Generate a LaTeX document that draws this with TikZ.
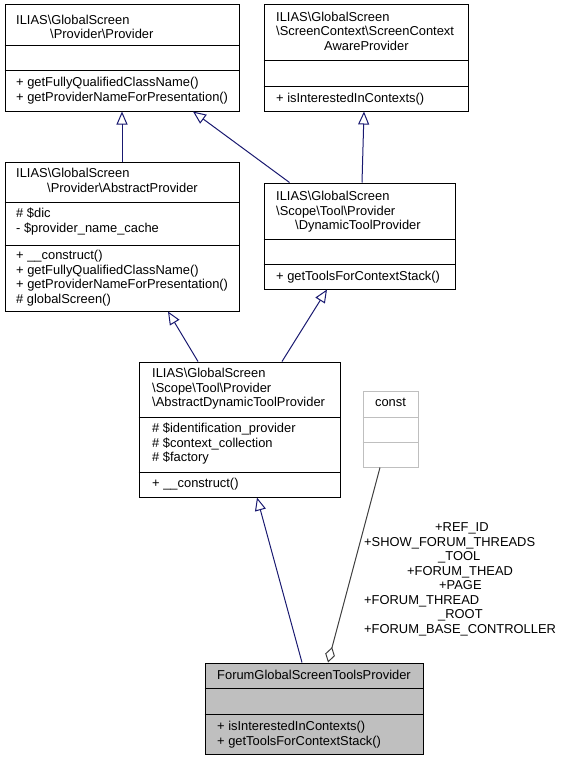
\documentclass[tikz,border=0pt]{standalone}
\usepackage{fontspec}
\setmainfont{Liberation Sans}
\usetikzlibrary{arrows.meta}
\newcommand{\bsl}{\textbackslash{}}
\definecolor{edgeblue}{HTML}{191970}
\definecolor{usegray}{HTML}{404040}
\definecolor{constgray}{HTML}{BFBFBF}
\definecolor{focusfill}{HTML}{BFBFBF}
\tikzset{
  classbox/.style={draw=black, line width=1pt, fill=white, inner sep=0pt},
  member/.style={anchor=base west, inner sep=0pt},
  inherit/.style={draw=edgeblue, line width=1pt, -{Triangle[open,length=13pt,width=11pt]}},
  usage/.style={draw=usegray, line width=1pt, -{Diamond[open,length=16pt,width=10pt]}},
}
\begin{document}
\begin{tikzpicture}[x=1pt, y=-1pt, font=\fontsize{12.9}{14.5}\selectfont]
    \useasboundingbox (0,0) rectangle (567,760);
    % class boxes
    \node[classbox, minimum width=234, minimum height=106] at (122,58) (A) {};
    \node[classbox, minimum width=204, minimum height=106] at (366,58) (B) {};
    \node[classbox, minimum width=234, minimum height=149] at (122,236.5) (C) {};
    \node[classbox, minimum width=191, minimum height=106] at (359.5,236) (D) {};
    \node[classbox, minimum width=201, minimum height=135] at (239.5,429.5) (E) {};
    \node[classbox, draw=constgray, minimum width=55, minimum height=76] at (390.5,429) (F) {};
    \node[classbox, fill=focusfill, minimum width=218, minimum height=91] at (314,708.5) (G) {};
    % separators
    \draw[line width=1pt] (A.west |- 0,46) -- (A.east |- 0,46);
    \draw[line width=1pt] (A.west |- 0,71) -- (A.east |- 0,71);
    \draw[line width=1pt] (B.west |- 0,61) -- (B.east |- 0,61);
    \draw[line width=1pt] (B.west |- 0,86) -- (B.east |- 0,86);
    \draw[line width=1pt] (C.west |- 0,202) -- (C.east |- 0,202);
    \draw[line width=1pt] (C.west |- 0,245) -- (C.east |- 0,245);
    \draw[line width=1pt] (D.west |- 0,239) -- (D.east |- 0,239);
    \draw[line width=1pt] (D.west |- 0,264) -- (D.east |- 0,264);
    \draw[line width=1pt] (E.west |- 0,417) -- (E.east |- 0,417);
    \draw[line width=1pt] (E.west |- 0,472) -- (E.east |- 0,472);
    \draw[line width=1pt, constgray] (F.west |- 0,417) -- (F.east |- 0,417);
    \draw[line width=1pt, constgray] (F.west |- 0,442) -- (F.east |- 0,442);
    \draw[line width=1pt] (G.west |- 0,688) -- (G.east |- 0,688);
    \draw[line width=1pt] (G.west |- 0,714) -- (G.east |- 0,714);
    % Provider
    \node[member] at (16,24.5) (A1) {ILIAS\bsl GlobalScreen};
    \node[member] at (50,39) (A2) {\bsl Provider\bsl Provider};
    \node[member] at (16,86.5) (A3) {+ getFullyQualifiedClassName()};
    \node[member] at (16,101) (A4) {+ getProviderNameForPresentation()};
    % ScreenContextAwareProvider
    \node[member] at (276,21.5) (B1) {ILIAS\bsl GlobalScreen};
    \node[member] at (276,36) (B2) {\bsl ScreenContext\bsl ScreenContext};
    \node[member] at (324,50.5) (B3) {AwareProvider};
    \node[member] at (276,102.5) (B4) {+ isInterestedInContexts()};
    % AbstractProvider
    \node[member] at (16,177.5) (C1) {ILIAS\bsl GlobalScreen};
    \node[member] at (47,192) (C2) {\bsl Provider\bsl AbstractProvider};
    \node[member] at (16,217.5) (C3) {\# \$dic};
    \node[member] at (16,232) (C4) {- \$provider\_name\_cache};
    \node[member] at (16,259.5) (C5) {+ \_\_construct()};
    \node[member] at (16,274) (C6) {+ getFullyQualifiedClassName()};
    \node[member] at (16,288.5) (C7) {+ getProviderNameForPresentation()};
    \node[member] at (16,303) (C8) {\# globalScreen()};
    % DynamicToolProvider
    \node[member] at (276,200.5) (D1) {ILIAS\bsl GlobalScreen};
    \node[member] at (276,215) (D2) {\bsl Scope\bsl Tool\bsl Provider};
    \node[member] at (295,229.5) (D3) {\bsl DynamicToolProvider};
    \node[member] at (276,280.5) (D4) {+ getToolsForContextStack()};
    % AbstractDynamicToolProvider
    \node[member] at (152,377.5) (E1) {ILIAS\bsl GlobalScreen};
    \node[member] at (152,392) (E2) {\bsl Scope\bsl Tool\bsl Provider};
    \node[member] at (152,406.5) (E3) {\bsl AbstractDynamicToolProvider};
    \node[member] at (152,432.5) (E4) {\# \$identification\_provider};
    \node[member] at (152,447) (E5) {\# \$context\_collection};
    \node[member] at (152,461.5) (E6) {\# \$factory};
    \node[member] at (152,487.5) (E7) {+ \_\_construct()};
    % const
    \node[anchor=base, inner sep=0pt] at (390.5,406.5) (F1) {const};
    % ForumGlobalScreenToolsProvider
    \node[member] at (217,679.5) (G1) {ForumGlobalScreenToolsProvider};
    \node[member] at (217,730.5) (G2) {+ isInterestedInContexts()};
    \node[member] at (217,745) (G3) {+ getToolsForContextStack()};
    % connectors
    \draw[inherit] (C.north) -- (A.south);
    \draw[inherit] ([xshift=-70pt]D.north) -- ([xshift=71pt]A.south);
    \draw[inherit] ([xshift=2.5pt]D.north) -- ([xshift=-2pt]B.south);
    \draw[inherit] ([xshift=-41.5pt]E.north) -- ([xshift=46pt]C.south);
    \draw[inherit] ([xshift=42.5pt]E.north) -- ([xshift=-32.5pt]D.south);
    \draw[inherit] ([xshift=-12pt]G.north) -- ([xshift=17.5pt]E.south);
    \draw[usage] ([xshift=-10.5pt]F.south) -- ([xshift=14pt]G.north);
    % label of the usage edge
    \node[member] at (435,531.5) (L1) {+REF\_ID};
    \node[member] at (364,546) (L2) {+SHOW\_FORUM\_THREADS};
    \node[member] at (438,560.5) (L3) {\_TOOL};
    \node[member] at (407,575) (L4) {+FORUM\_THEAD};
    \node[member] at (439,589.5) (L5) {+PAGE};
    \node[member] at (364,604) (L6) {+FORUM\_THREAD};
    \node[member] at (438,618.5) (L7) {\_ROOT};
    \node[member] at (364,633) (L8) {+FORUM\_BASE\_CONTROLLER};
\end{tikzpicture}
\end{document}
